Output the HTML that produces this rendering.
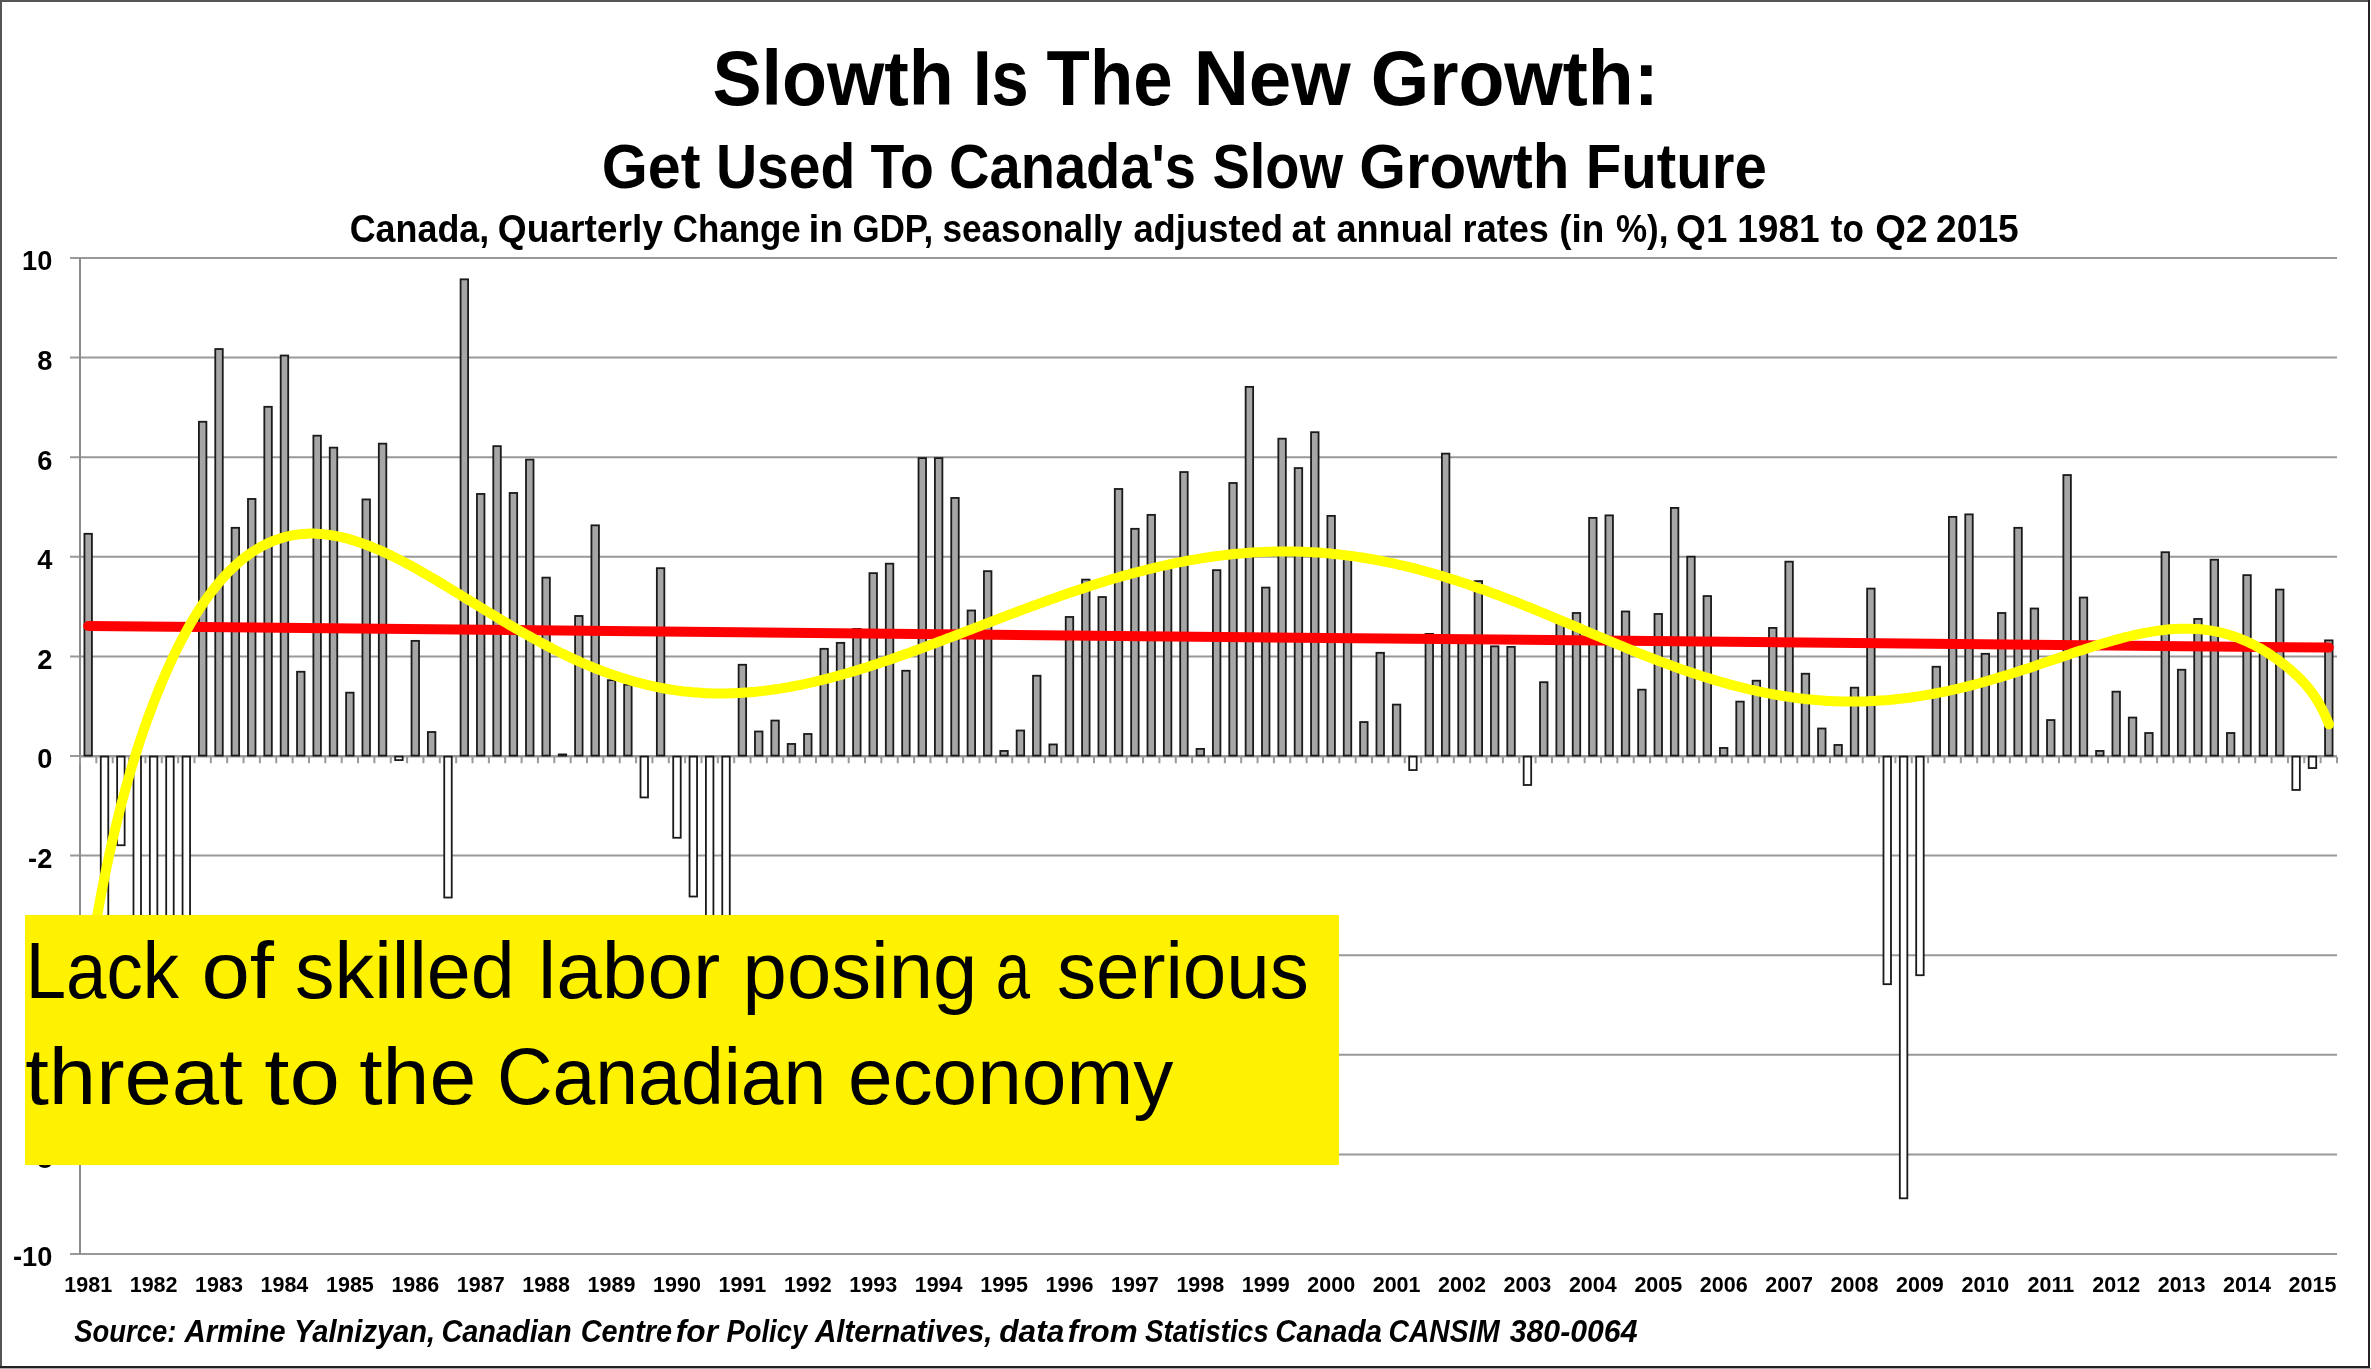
<!DOCTYPE html><html><head><meta charset="utf-8"><style>html,body{margin:0;padding:0;background:#fff;overflow:hidden}svg{display:block;will-change:transform}</style></head><body>
<svg width="2371" height="1369" viewBox="0 0 2371 1369">
<rect x="0" y="0" width="2371" height="1369" fill="#fff"/>
<line x1="70" y1="1254.0" x2="2337" y2="1254.0" stroke="#999" stroke-width="2"/>
<line x1="70" y1="1154.4" x2="2337" y2="1154.4" stroke="#999" stroke-width="2"/>
<line x1="70" y1="1054.8" x2="2337" y2="1054.8" stroke="#999" stroke-width="2"/>
<line x1="70" y1="955.2" x2="2337" y2="955.2" stroke="#999" stroke-width="2"/>
<line x1="70" y1="855.6" x2="2337" y2="855.6" stroke="#999" stroke-width="2"/>
<line x1="70" y1="756.0" x2="2337" y2="756.0" stroke="#999" stroke-width="2"/>
<line x1="70" y1="656.4" x2="2337" y2="656.4" stroke="#999" stroke-width="2"/>
<line x1="70" y1="556.8" x2="2337" y2="556.8" stroke="#999" stroke-width="2"/>
<line x1="70" y1="457.2" x2="2337" y2="457.2" stroke="#999" stroke-width="2"/>
<line x1="70" y1="357.6" x2="2337" y2="357.6" stroke="#999" stroke-width="2"/>
<line x1="70" y1="258.0" x2="2337" y2="258.0" stroke="#999" stroke-width="2"/>
<line x1="80" y1="258" x2="80" y2="1254" stroke="#8c8c8c" stroke-width="2"/>
<line x1="80" y1="756.5" x2="2337" y2="756.5" stroke="#999" stroke-width="2"/>
<rect x="84.43" y="533.80" width="7.5" height="221.80" fill="#a6a6a6" stroke="#1a1a1a" stroke-width="1.8"/>
<rect x="100.78" y="756.60" width="7.5" height="222.60" fill="#fff" stroke="#1a1a1a" stroke-width="1.8"/>
<rect x="117.14" y="756.60" width="7.5" height="88.64" fill="#fff" stroke="#1a1a1a" stroke-width="1.8"/>
<rect x="133.49" y="756.60" width="7.5" height="222.60" fill="#fff" stroke="#1a1a1a" stroke-width="1.8"/>
<rect x="149.85" y="756.60" width="7.5" height="247.50" fill="#fff" stroke="#1a1a1a" stroke-width="1.8"/>
<rect x="166.20" y="756.60" width="7.5" height="222.60" fill="#fff" stroke="#1a1a1a" stroke-width="1.8"/>
<rect x="182.56" y="756.60" width="7.5" height="197.70" fill="#fff" stroke="#1a1a1a" stroke-width="1.8"/>
<rect x="198.91" y="421.75" width="7.5" height="333.85" fill="#a6a6a6" stroke="#1a1a1a" stroke-width="1.8"/>
<rect x="215.27" y="349.04" width="7.5" height="406.56" fill="#a6a6a6" stroke="#1a1a1a" stroke-width="1.8"/>
<rect x="231.62" y="527.82" width="7.5" height="227.78" fill="#a6a6a6" stroke="#1a1a1a" stroke-width="1.8"/>
<rect x="247.98" y="498.94" width="7.5" height="256.66" fill="#a6a6a6" stroke="#1a1a1a" stroke-width="1.8"/>
<rect x="264.33" y="406.81" width="7.5" height="348.79" fill="#a6a6a6" stroke="#1a1a1a" stroke-width="1.8"/>
<rect x="280.69" y="355.51" width="7.5" height="400.09" fill="#a6a6a6" stroke="#1a1a1a" stroke-width="1.8"/>
<rect x="297.04" y="671.74" width="7.5" height="83.86" fill="#a6a6a6" stroke="#1a1a1a" stroke-width="1.8"/>
<rect x="313.40" y="435.69" width="7.5" height="319.91" fill="#a6a6a6" stroke="#1a1a1a" stroke-width="1.8"/>
<rect x="329.75" y="447.64" width="7.5" height="307.96" fill="#a6a6a6" stroke="#1a1a1a" stroke-width="1.8"/>
<rect x="346.11" y="692.66" width="7.5" height="62.94" fill="#a6a6a6" stroke="#1a1a1a" stroke-width="1.8"/>
<rect x="362.46" y="499.43" width="7.5" height="256.17" fill="#a6a6a6" stroke="#1a1a1a" stroke-width="1.8"/>
<rect x="378.82" y="443.66" width="7.5" height="311.94" fill="#a6a6a6" stroke="#1a1a1a" stroke-width="1.8"/>
<rect x="395.17" y="756.60" width="7.5" height="3.48" fill="#fff" stroke="#1a1a1a" stroke-width="1.8"/>
<rect x="411.53" y="640.87" width="7.5" height="114.73" fill="#a6a6a6" stroke="#1a1a1a" stroke-width="1.8"/>
<rect x="427.88" y="732.00" width="7.5" height="23.60" fill="#a6a6a6" stroke="#1a1a1a" stroke-width="1.8"/>
<rect x="444.24" y="756.60" width="7.5" height="140.93" fill="#fff" stroke="#1a1a1a" stroke-width="1.8"/>
<rect x="460.59" y="279.32" width="7.5" height="476.28" fill="#a6a6a6" stroke="#1a1a1a" stroke-width="1.8"/>
<rect x="476.95" y="493.96" width="7.5" height="261.64" fill="#a6a6a6" stroke="#1a1a1a" stroke-width="1.8"/>
<rect x="493.30" y="446.15" width="7.5" height="309.45" fill="#a6a6a6" stroke="#1a1a1a" stroke-width="1.8"/>
<rect x="509.66" y="492.96" width="7.5" height="262.64" fill="#a6a6a6" stroke="#1a1a1a" stroke-width="1.8"/>
<rect x="526.01" y="459.59" width="7.5" height="296.01" fill="#a6a6a6" stroke="#1a1a1a" stroke-width="1.8"/>
<rect x="542.37" y="577.62" width="7.5" height="177.98" fill="#a6a6a6" stroke="#1a1a1a" stroke-width="1.8"/>
<rect x="558.72" y="754.41" width="7.5" height="1.19" fill="#a6a6a6" stroke="#1a1a1a" stroke-width="1.8"/>
<rect x="575.08" y="615.97" width="7.5" height="139.63" fill="#a6a6a6" stroke="#1a1a1a" stroke-width="1.8"/>
<rect x="591.43" y="525.33" width="7.5" height="230.27" fill="#a6a6a6" stroke="#1a1a1a" stroke-width="1.8"/>
<rect x="607.79" y="680.21" width="7.5" height="75.39" fill="#a6a6a6" stroke="#1a1a1a" stroke-width="1.8"/>
<rect x="624.14" y="684.69" width="7.5" height="70.91" fill="#a6a6a6" stroke="#1a1a1a" stroke-width="1.8"/>
<rect x="640.50" y="756.60" width="7.5" height="40.83" fill="#fff" stroke="#1a1a1a" stroke-width="1.8"/>
<rect x="656.85" y="568.16" width="7.5" height="187.44" fill="#a6a6a6" stroke="#1a1a1a" stroke-width="1.8"/>
<rect x="673.21" y="756.60" width="7.5" height="81.17" fill="#fff" stroke="#1a1a1a" stroke-width="1.8"/>
<rect x="689.56" y="756.60" width="7.5" height="139.93" fill="#fff" stroke="#1a1a1a" stroke-width="1.8"/>
<rect x="705.92" y="756.60" width="7.5" height="197.70" fill="#fff" stroke="#1a1a1a" stroke-width="1.8"/>
<rect x="722.27" y="756.60" width="7.5" height="222.60" fill="#fff" stroke="#1a1a1a" stroke-width="1.8"/>
<rect x="738.63" y="664.77" width="7.5" height="90.83" fill="#a6a6a6" stroke="#1a1a1a" stroke-width="1.8"/>
<rect x="754.98" y="731.50" width="7.5" height="24.10" fill="#a6a6a6" stroke="#1a1a1a" stroke-width="1.8"/>
<rect x="771.34" y="720.55" width="7.5" height="35.05" fill="#a6a6a6" stroke="#1a1a1a" stroke-width="1.8"/>
<rect x="787.69" y="743.95" width="7.5" height="11.65" fill="#a6a6a6" stroke="#1a1a1a" stroke-width="1.8"/>
<rect x="804.05" y="733.99" width="7.5" height="21.61" fill="#a6a6a6" stroke="#1a1a1a" stroke-width="1.8"/>
<rect x="820.40" y="648.83" width="7.5" height="106.77" fill="#a6a6a6" stroke="#1a1a1a" stroke-width="1.8"/>
<rect x="836.76" y="642.86" width="7.5" height="112.74" fill="#a6a6a6" stroke="#1a1a1a" stroke-width="1.8"/>
<rect x="853.11" y="628.91" width="7.5" height="126.69" fill="#a6a6a6" stroke="#1a1a1a" stroke-width="1.8"/>
<rect x="869.47" y="573.14" width="7.5" height="182.46" fill="#a6a6a6" stroke="#1a1a1a" stroke-width="1.8"/>
<rect x="885.82" y="563.68" width="7.5" height="191.92" fill="#a6a6a6" stroke="#1a1a1a" stroke-width="1.8"/>
<rect x="902.18" y="670.75" width="7.5" height="84.85" fill="#a6a6a6" stroke="#1a1a1a" stroke-width="1.8"/>
<rect x="918.53" y="458.10" width="7.5" height="297.50" fill="#a6a6a6" stroke="#1a1a1a" stroke-width="1.8"/>
<rect x="934.89" y="458.10" width="7.5" height="297.50" fill="#a6a6a6" stroke="#1a1a1a" stroke-width="1.8"/>
<rect x="951.24" y="497.94" width="7.5" height="257.66" fill="#a6a6a6" stroke="#1a1a1a" stroke-width="1.8"/>
<rect x="967.60" y="610.49" width="7.5" height="145.11" fill="#a6a6a6" stroke="#1a1a1a" stroke-width="1.8"/>
<rect x="983.95" y="571.15" width="7.5" height="184.45" fill="#a6a6a6" stroke="#1a1a1a" stroke-width="1.8"/>
<rect x="1000.31" y="750.92" width="7.5" height="4.68" fill="#a6a6a6" stroke="#1a1a1a" stroke-width="1.8"/>
<rect x="1016.66" y="730.51" width="7.5" height="25.09" fill="#a6a6a6" stroke="#1a1a1a" stroke-width="1.8"/>
<rect x="1033.02" y="675.73" width="7.5" height="79.87" fill="#a6a6a6" stroke="#1a1a1a" stroke-width="1.8"/>
<rect x="1049.37" y="744.45" width="7.5" height="11.15" fill="#a6a6a6" stroke="#1a1a1a" stroke-width="1.8"/>
<rect x="1065.73" y="616.96" width="7.5" height="138.64" fill="#a6a6a6" stroke="#1a1a1a" stroke-width="1.8"/>
<rect x="1082.08" y="579.61" width="7.5" height="175.99" fill="#a6a6a6" stroke="#1a1a1a" stroke-width="1.8"/>
<rect x="1098.44" y="597.04" width="7.5" height="158.56" fill="#a6a6a6" stroke="#1a1a1a" stroke-width="1.8"/>
<rect x="1114.79" y="488.98" width="7.5" height="266.62" fill="#a6a6a6" stroke="#1a1a1a" stroke-width="1.8"/>
<rect x="1131.15" y="528.82" width="7.5" height="226.78" fill="#a6a6a6" stroke="#1a1a1a" stroke-width="1.8"/>
<rect x="1147.50" y="514.87" width="7.5" height="240.73" fill="#a6a6a6" stroke="#1a1a1a" stroke-width="1.8"/>
<rect x="1163.86" y="565.17" width="7.5" height="190.43" fill="#a6a6a6" stroke="#1a1a1a" stroke-width="1.8"/>
<rect x="1180.21" y="472.04" width="7.5" height="283.56" fill="#a6a6a6" stroke="#1a1a1a" stroke-width="1.8"/>
<rect x="1196.57" y="748.93" width="7.5" height="6.67" fill="#a6a6a6" stroke="#1a1a1a" stroke-width="1.8"/>
<rect x="1212.92" y="570.15" width="7.5" height="185.45" fill="#a6a6a6" stroke="#1a1a1a" stroke-width="1.8"/>
<rect x="1229.28" y="483.00" width="7.5" height="272.60" fill="#a6a6a6" stroke="#1a1a1a" stroke-width="1.8"/>
<rect x="1245.63" y="386.89" width="7.5" height="368.71" fill="#a6a6a6" stroke="#1a1a1a" stroke-width="1.8"/>
<rect x="1261.99" y="587.58" width="7.5" height="168.02" fill="#a6a6a6" stroke="#1a1a1a" stroke-width="1.8"/>
<rect x="1278.34" y="438.68" width="7.5" height="316.92" fill="#a6a6a6" stroke="#1a1a1a" stroke-width="1.8"/>
<rect x="1294.70" y="468.06" width="7.5" height="287.54" fill="#a6a6a6" stroke="#1a1a1a" stroke-width="1.8"/>
<rect x="1311.05" y="432.20" width="7.5" height="323.40" fill="#a6a6a6" stroke="#1a1a1a" stroke-width="1.8"/>
<rect x="1327.41" y="515.87" width="7.5" height="239.73" fill="#a6a6a6" stroke="#1a1a1a" stroke-width="1.8"/>
<rect x="1343.76" y="557.70" width="7.5" height="197.90" fill="#a6a6a6" stroke="#1a1a1a" stroke-width="1.8"/>
<rect x="1360.12" y="722.04" width="7.5" height="33.56" fill="#a6a6a6" stroke="#1a1a1a" stroke-width="1.8"/>
<rect x="1376.47" y="652.82" width="7.5" height="102.78" fill="#a6a6a6" stroke="#1a1a1a" stroke-width="1.8"/>
<rect x="1392.83" y="704.61" width="7.5" height="50.99" fill="#a6a6a6" stroke="#1a1a1a" stroke-width="1.8"/>
<rect x="1409.18" y="756.60" width="7.5" height="13.44" fill="#fff" stroke="#1a1a1a" stroke-width="1.8"/>
<rect x="1425.54" y="633.89" width="7.5" height="121.71" fill="#a6a6a6" stroke="#1a1a1a" stroke-width="1.8"/>
<rect x="1441.89" y="453.62" width="7.5" height="301.98" fill="#a6a6a6" stroke="#1a1a1a" stroke-width="1.8"/>
<rect x="1458.25" y="640.87" width="7.5" height="114.73" fill="#a6a6a6" stroke="#1a1a1a" stroke-width="1.8"/>
<rect x="1474.60" y="581.11" width="7.5" height="174.49" fill="#a6a6a6" stroke="#1a1a1a" stroke-width="1.8"/>
<rect x="1490.96" y="646.34" width="7.5" height="109.26" fill="#a6a6a6" stroke="#1a1a1a" stroke-width="1.8"/>
<rect x="1507.31" y="646.84" width="7.5" height="108.76" fill="#a6a6a6" stroke="#1a1a1a" stroke-width="1.8"/>
<rect x="1523.67" y="756.60" width="7.5" height="28.38" fill="#fff" stroke="#1a1a1a" stroke-width="1.8"/>
<rect x="1540.02" y="682.20" width="7.5" height="73.40" fill="#a6a6a6" stroke="#1a1a1a" stroke-width="1.8"/>
<rect x="1556.38" y="619.95" width="7.5" height="135.65" fill="#a6a6a6" stroke="#1a1a1a" stroke-width="1.8"/>
<rect x="1572.73" y="612.98" width="7.5" height="142.62" fill="#a6a6a6" stroke="#1a1a1a" stroke-width="1.8"/>
<rect x="1589.09" y="517.86" width="7.5" height="237.74" fill="#a6a6a6" stroke="#1a1a1a" stroke-width="1.8"/>
<rect x="1605.44" y="515.37" width="7.5" height="240.23" fill="#a6a6a6" stroke="#1a1a1a" stroke-width="1.8"/>
<rect x="1621.80" y="611.48" width="7.5" height="144.12" fill="#a6a6a6" stroke="#1a1a1a" stroke-width="1.8"/>
<rect x="1638.15" y="689.67" width="7.5" height="65.93" fill="#a6a6a6" stroke="#1a1a1a" stroke-width="1.8"/>
<rect x="1654.51" y="613.97" width="7.5" height="141.63" fill="#a6a6a6" stroke="#1a1a1a" stroke-width="1.8"/>
<rect x="1670.86" y="507.90" width="7.5" height="247.70" fill="#a6a6a6" stroke="#1a1a1a" stroke-width="1.8"/>
<rect x="1687.22" y="556.70" width="7.5" height="198.90" fill="#a6a6a6" stroke="#1a1a1a" stroke-width="1.8"/>
<rect x="1703.57" y="596.05" width="7.5" height="159.55" fill="#a6a6a6" stroke="#1a1a1a" stroke-width="1.8"/>
<rect x="1719.93" y="747.94" width="7.5" height="7.66" fill="#a6a6a6" stroke="#1a1a1a" stroke-width="1.8"/>
<rect x="1736.28" y="701.62" width="7.5" height="53.98" fill="#a6a6a6" stroke="#1a1a1a" stroke-width="1.8"/>
<rect x="1752.64" y="680.71" width="7.5" height="74.89" fill="#a6a6a6" stroke="#1a1a1a" stroke-width="1.8"/>
<rect x="1768.99" y="627.92" width="7.5" height="127.68" fill="#a6a6a6" stroke="#1a1a1a" stroke-width="1.8"/>
<rect x="1785.35" y="561.68" width="7.5" height="193.92" fill="#a6a6a6" stroke="#1a1a1a" stroke-width="1.8"/>
<rect x="1801.70" y="673.73" width="7.5" height="81.87" fill="#a6a6a6" stroke="#1a1a1a" stroke-width="1.8"/>
<rect x="1818.06" y="728.51" width="7.5" height="27.09" fill="#a6a6a6" stroke="#1a1a1a" stroke-width="1.8"/>
<rect x="1834.41" y="744.95" width="7.5" height="10.65" fill="#a6a6a6" stroke="#1a1a1a" stroke-width="1.8"/>
<rect x="1850.77" y="687.68" width="7.5" height="67.92" fill="#a6a6a6" stroke="#1a1a1a" stroke-width="1.8"/>
<rect x="1867.12" y="588.58" width="7.5" height="167.02" fill="#a6a6a6" stroke="#1a1a1a" stroke-width="1.8"/>
<rect x="1883.48" y="756.60" width="7.5" height="227.58" fill="#fff" stroke="#1a1a1a" stroke-width="1.8"/>
<rect x="1899.83" y="756.60" width="7.5" height="441.72" fill="#fff" stroke="#1a1a1a" stroke-width="1.8"/>
<rect x="1916.19" y="756.60" width="7.5" height="218.62" fill="#fff" stroke="#1a1a1a" stroke-width="1.8"/>
<rect x="1932.54" y="666.76" width="7.5" height="88.84" fill="#a6a6a6" stroke="#1a1a1a" stroke-width="1.8"/>
<rect x="1948.90" y="516.86" width="7.5" height="238.74" fill="#a6a6a6" stroke="#1a1a1a" stroke-width="1.8"/>
<rect x="1965.25" y="514.37" width="7.5" height="241.23" fill="#a6a6a6" stroke="#1a1a1a" stroke-width="1.8"/>
<rect x="1981.61" y="653.81" width="7.5" height="101.79" fill="#a6a6a6" stroke="#1a1a1a" stroke-width="1.8"/>
<rect x="1997.96" y="612.98" width="7.5" height="142.62" fill="#a6a6a6" stroke="#1a1a1a" stroke-width="1.8"/>
<rect x="2014.32" y="527.82" width="7.5" height="227.78" fill="#a6a6a6" stroke="#1a1a1a" stroke-width="1.8"/>
<rect x="2030.67" y="608.50" width="7.5" height="147.10" fill="#a6a6a6" stroke="#1a1a1a" stroke-width="1.8"/>
<rect x="2047.03" y="720.05" width="7.5" height="35.55" fill="#a6a6a6" stroke="#1a1a1a" stroke-width="1.8"/>
<rect x="2063.38" y="475.03" width="7.5" height="280.57" fill="#a6a6a6" stroke="#1a1a1a" stroke-width="1.8"/>
<rect x="2079.74" y="597.54" width="7.5" height="158.06" fill="#a6a6a6" stroke="#1a1a1a" stroke-width="1.8"/>
<rect x="2096.09" y="750.92" width="7.5" height="4.68" fill="#a6a6a6" stroke="#1a1a1a" stroke-width="1.8"/>
<rect x="2112.45" y="691.66" width="7.5" height="63.94" fill="#a6a6a6" stroke="#1a1a1a" stroke-width="1.8"/>
<rect x="2128.80" y="717.56" width="7.5" height="38.04" fill="#a6a6a6" stroke="#1a1a1a" stroke-width="1.8"/>
<rect x="2145.16" y="733.00" width="7.5" height="22.60" fill="#a6a6a6" stroke="#1a1a1a" stroke-width="1.8"/>
<rect x="2161.51" y="552.22" width="7.5" height="203.38" fill="#a6a6a6" stroke="#1a1a1a" stroke-width="1.8"/>
<rect x="2177.87" y="669.75" width="7.5" height="85.85" fill="#a6a6a6" stroke="#1a1a1a" stroke-width="1.8"/>
<rect x="2194.22" y="618.95" width="7.5" height="136.65" fill="#a6a6a6" stroke="#1a1a1a" stroke-width="1.8"/>
<rect x="2210.58" y="559.69" width="7.5" height="195.91" fill="#a6a6a6" stroke="#1a1a1a" stroke-width="1.8"/>
<rect x="2226.93" y="733.00" width="7.5" height="22.60" fill="#a6a6a6" stroke="#1a1a1a" stroke-width="1.8"/>
<rect x="2243.29" y="575.13" width="7.5" height="180.47" fill="#a6a6a6" stroke="#1a1a1a" stroke-width="1.8"/>
<rect x="2259.64" y="652.32" width="7.5" height="103.28" fill="#a6a6a6" stroke="#1a1a1a" stroke-width="1.8"/>
<rect x="2276.00" y="589.57" width="7.5" height="166.03" fill="#a6a6a6" stroke="#1a1a1a" stroke-width="1.8"/>
<rect x="2292.35" y="756.60" width="7.5" height="33.36" fill="#fff" stroke="#1a1a1a" stroke-width="1.8"/>
<rect x="2308.71" y="756.60" width="7.5" height="11.45" fill="#fff" stroke="#1a1a1a" stroke-width="1.8"/>
<rect x="2325.06" y="640.37" width="7.5" height="115.23" fill="#a6a6a6" stroke="#1a1a1a" stroke-width="1.8"/>
<path d="M80.00,757.0V763.3M96.36,757.0V763.3M112.71,757.0V763.3M129.06,757.0V763.3M145.42,757.0V763.3M161.78,757.0V763.3M178.13,757.0V763.3M194.49,757.0V763.3M210.84,757.0V763.3M227.19,757.0V763.3M243.55,757.0V763.3M259.90,757.0V763.3M276.26,757.0V763.3M292.62,757.0V763.3M308.97,757.0V763.3M325.33,757.0V763.3M341.68,757.0V763.3M358.04,757.0V763.3M374.39,757.0V763.3M390.75,757.0V763.3M407.10,757.0V763.3M423.45,757.0V763.3M439.81,757.0V763.3M456.17,757.0V763.3M472.52,757.0V763.3M488.88,757.0V763.3M505.23,757.0V763.3M521.59,757.0V763.3M537.94,757.0V763.3M554.30,757.0V763.3M570.65,757.0V763.3M587.00,757.0V763.3M603.36,757.0V763.3M619.72,757.0V763.3M636.07,757.0V763.3M652.43,757.0V763.3M668.78,757.0V763.3M685.13,757.0V763.3M701.49,757.0V763.3M717.85,757.0V763.3M734.20,757.0V763.3M750.56,757.0V763.3M766.91,757.0V763.3M783.26,757.0V763.3M799.62,757.0V763.3M815.98,757.0V763.3M832.33,757.0V763.3M848.69,757.0V763.3M865.04,757.0V763.3M881.39,757.0V763.3M897.75,757.0V763.3M914.11,757.0V763.3M930.46,757.0V763.3M946.82,757.0V763.3M963.17,757.0V763.3M979.52,757.0V763.3M995.88,757.0V763.3M1012.24,757.0V763.3M1028.59,757.0V763.3M1044.95,757.0V763.3M1061.30,757.0V763.3M1077.65,757.0V763.3M1094.01,757.0V763.3M1110.37,757.0V763.3M1126.72,757.0V763.3M1143.08,757.0V763.3M1159.43,757.0V763.3M1175.79,757.0V763.3M1192.14,757.0V763.3M1208.50,757.0V763.3M1224.85,757.0V763.3M1241.20,757.0V763.3M1257.56,757.0V763.3M1273.91,757.0V763.3M1290.27,757.0V763.3M1306.62,757.0V763.3M1322.98,757.0V763.3M1339.34,757.0V763.3M1355.69,757.0V763.3M1372.05,757.0V763.3M1388.40,757.0V763.3M1404.76,757.0V763.3M1421.11,757.0V763.3M1437.47,757.0V763.3M1453.82,757.0V763.3M1470.17,757.0V763.3M1486.53,757.0V763.3M1502.88,757.0V763.3M1519.24,757.0V763.3M1535.60,757.0V763.3M1551.95,757.0V763.3M1568.31,757.0V763.3M1584.66,757.0V763.3M1601.02,757.0V763.3M1617.37,757.0V763.3M1633.73,757.0V763.3M1650.08,757.0V763.3M1666.43,757.0V763.3M1682.79,757.0V763.3M1699.14,757.0V763.3M1715.50,757.0V763.3M1731.86,757.0V763.3M1748.21,757.0V763.3M1764.57,757.0V763.3M1780.92,757.0V763.3M1797.28,757.0V763.3M1813.63,757.0V763.3M1829.99,757.0V763.3M1846.34,757.0V763.3M1862.69,757.0V763.3M1879.05,757.0V763.3M1895.40,757.0V763.3M1911.76,757.0V763.3M1928.12,757.0V763.3M1944.47,757.0V763.3M1960.83,757.0V763.3M1977.18,757.0V763.3M1993.54,757.0V763.3M2009.89,757.0V763.3M2026.25,757.0V763.3M2042.60,757.0V763.3M2058.95,757.0V763.3M2075.31,757.0V763.3M2091.66,757.0V763.3M2108.02,757.0V763.3M2124.38,757.0V763.3M2140.73,757.0V763.3M2157.09,757.0V763.3M2173.44,757.0V763.3M2189.80,757.0V763.3M2206.15,757.0V763.3M2222.51,757.0V763.3M2238.86,757.0V763.3M2255.22,757.0V763.3M2271.57,757.0V763.3M2287.93,757.0V763.3M2304.28,757.0V763.3M2320.64,757.0V763.3M2336.99,757.0V763.3" stroke="#999" stroke-width="2" fill="none"/>
<line x1="88.2" y1="626" x2="2328.8" y2="647.6" stroke="#ff0000" stroke-width="10" stroke-linecap="round"/>
<path d="M88,960 L97.3,915.0 L100.3,898.7 L103.3,883.3 L106.3,868.6 L109.3,854.5 L112.3,841.1 L115.3,828.3 L118.3,816.1 L121.3,804.3 L124.3,793.1 L127.3,782.3 L130.3,771.9 L133.3,761.9 L136.3,752.3 L139.3,743.0 L142.3,734.0 L145.3,725.4 L148.3,717.0 L151.3,708.9 L154.3,701.0 L157.3,693.4 L160.3,686.0 L163.3,678.8 L166.3,671.9 L169.3,665.2 L172.3,658.7 L175.3,652.4 L178.3,646.3 L181.3,640.5 L184.3,634.8 L187.3,629.3 L190.3,624.0 L193.3,619.0 L196.3,614.0 L199.3,609.3 L202.3,604.8 L205.3,600.4 L208.3,596.2 L211.3,592.1 L214.3,588.3 L217.3,584.6 L220.3,581.0 L223.3,577.6 L226.3,574.3 L229.3,571.2 L232.3,568.3 L235.3,565.5 L238.3,562.8 L241.3,560.2 L244.3,557.8 L247.3,555.6 L250.3,553.4 L253.3,551.4 L256.3,549.5 L259.3,547.7 L262.3,546.0 L265.3,544.5 L268.3,543.1 L271.3,541.7 L274.3,540.5 L277.3,539.4 L280.3,538.4 L283.3,537.5 L286.3,536.7 L289.3,536.0 L292.3,535.4 L295.3,534.9 L298.3,534.5 L301.3,534.1 L304.3,533.9 L307.3,533.7 L310.3,533.6 L313.3,533.6 L316.3,533.7 L319.3,533.9 L322.3,534.1 L325.3,534.4 L328.3,534.8 L331.3,535.2 L334.3,535.7 L337.3,536.3 L340.3,536.9 L343.3,537.6 L346.3,538.4 L349.3,539.2 L352.3,540.1 L355.3,541.0 L358.3,542.0 L361.3,543.0 L364.3,544.1 L367.3,545.2 L370.3,546.3 L373.3,547.6 L376.3,548.8 L379.3,550.1 L382.3,551.4 L385.3,552.8 L388.3,554.2 L391.3,555.6 L394.3,557.1 L397.3,558.6 L400.3,560.1 L403.3,561.7 L406.3,563.3 L409.3,564.9 L412.3,566.5 L415.3,568.2 L418.3,569.9 L421.3,571.6 L424.3,573.3 L427.3,575.0 L430.3,576.8 L433.3,578.5 L436.3,580.3 L439.3,582.1 L442.3,583.9 L445.3,585.7 L448.3,587.5 L451.3,589.4 L454.3,591.2 L457.3,593.0 L460.3,594.9 L463.3,596.7 L466.3,598.6 L469.3,600.4 L472.3,602.3 L475.3,604.1 L478.3,606.0 L481.3,607.8 L484.3,609.6 L487.3,611.5 L490.3,613.3 L493.3,615.1 L496.3,616.9 L499.3,618.8 L502.3,620.6 L505.3,622.3 L508.3,624.1 L511.3,625.9 L514.3,627.6 L517.3,629.4 L520.3,631.1 L523.3,632.8 L526.3,634.5 L529.3,636.2 L532.3,637.9 L535.3,639.5 L538.3,641.2 L541.3,642.8 L544.3,644.4 L547.3,646.0 L550.3,647.5 L553.3,649.1 L556.3,650.6 L559.3,652.1 L562.3,653.6 L565.3,655.0 L568.3,656.5 L571.3,657.9 L574.3,659.3 L577.3,660.6 L580.3,662.0 L583.3,663.3 L586.3,664.6 L589.3,665.8 L592.3,667.1 L595.3,668.3 L598.3,669.5 L601.3,670.6 L604.3,671.8 L607.3,672.9 L610.3,673.9 L613.3,675.0 L616.3,676.0 L619.3,677.0 L622.3,678.0 L625.3,678.9 L628.3,679.8 L631.3,680.7 L634.3,681.6 L637.3,682.4 L640.3,683.2 L643.3,683.9 L646.3,684.7 L649.3,685.4 L652.3,686.0 L655.3,686.7 L658.3,687.3 L661.3,687.9 L664.3,688.5 L667.3,689.0 L670.3,689.5 L673.3,689.9 L676.3,690.4 L679.3,690.8 L682.3,691.2 L685.3,691.5 L688.3,691.8 L691.3,692.1 L694.3,692.4 L697.3,692.6 L700.3,692.8 L703.3,693.0 L706.3,693.2 L709.3,693.3 L712.3,693.4 L715.3,693.4 L718.3,693.5 L721.3,693.5 L724.3,693.5 L727.3,693.4 L730.3,693.3 L733.3,693.2 L736.3,693.1 L739.3,693.0 L742.3,692.8 L745.3,692.6 L748.3,692.4 L751.3,692.1 L754.3,691.9 L757.3,691.6 L760.3,691.2 L763.3,690.9 L766.3,690.5 L769.3,690.1 L772.3,689.7 L775.3,689.3 L778.3,688.9 L781.3,688.4 L784.3,687.9 L787.3,687.4 L790.3,686.8 L793.3,686.3 L796.3,685.7 L799.3,685.1 L802.3,684.5 L805.3,683.8 L808.3,683.2 L811.3,682.5 L814.3,681.8 L817.3,681.1 L820.3,680.4 L823.3,679.7 L826.3,678.9 L829.3,678.1 L832.3,677.3 L835.3,676.5 L838.3,675.7 L841.3,674.9 L844.3,674.0 L847.3,673.2 L850.3,672.3 L853.3,671.4 L856.3,670.5 L859.3,669.6 L862.3,668.6 L865.3,667.7 L868.3,666.8 L871.3,665.8 L874.3,664.8 L877.3,663.8 L880.3,662.8 L883.3,661.8 L886.3,660.8 L889.3,659.8 L892.3,658.7 L895.3,657.7 L898.3,656.6 L901.3,655.6 L904.3,654.5 L907.3,653.4 L910.3,652.4 L913.3,651.3 L916.3,650.2 L919.3,649.1 L922.3,648.0 L925.3,646.8 L928.3,645.7 L931.3,644.6 L934.3,643.5 L937.3,642.3 L940.3,641.2 L943.3,640.1 L946.3,638.9 L949.3,637.8 L952.3,636.6 L955.3,635.5 L958.3,634.3 L961.3,633.2 L964.3,632.0 L967.3,630.9 L970.3,629.7 L973.3,628.6 L976.3,627.4 L979.3,626.3 L982.3,625.1 L985.3,623.9 L988.3,622.8 L991.3,621.6 L994.3,620.5 L997.3,619.3 L1000.3,618.2 L1003.3,617.0 L1006.3,615.9 L1009.3,614.7 L1012.3,613.6 L1015.3,612.5 L1018.3,611.3 L1021.3,610.2 L1024.3,609.1 L1027.3,608.0 L1030.3,606.9 L1033.3,605.8 L1036.3,604.7 L1039.3,603.6 L1042.3,602.5 L1045.3,601.4 L1048.3,600.3 L1051.3,599.2 L1054.3,598.2 L1057.3,597.1 L1060.3,596.0 L1063.3,595.0 L1066.3,594.0 L1069.3,592.9 L1072.3,591.9 L1075.3,590.9 L1078.3,589.9 L1081.3,588.9 L1084.3,587.9 L1087.3,586.9 L1090.3,585.9 L1093.3,585.0 L1096.3,584.0 L1099.3,583.1 L1102.3,582.2 L1105.3,581.2 L1108.3,580.3 L1111.3,579.4 L1114.3,578.5 L1117.3,577.7 L1120.3,576.8 L1123.3,575.9 L1126.3,575.1 L1129.3,574.3 L1132.3,573.4 L1135.3,572.6 L1138.3,571.8 L1141.3,571.1 L1144.3,570.3 L1147.3,569.5 L1150.3,568.8 L1153.3,568.1 L1156.3,567.4 L1159.3,566.7 L1162.3,566.0 L1165.3,565.3 L1168.3,564.6 L1171.3,564.0 L1174.3,563.4 L1177.3,562.7 L1180.3,562.1 L1183.3,561.6 L1186.3,561.0 L1189.3,560.4 L1192.3,559.9 L1195.3,559.4 L1198.3,558.8 L1201.3,558.4 L1204.3,557.9 L1207.3,557.4 L1210.3,557.0 L1213.3,556.5 L1216.3,556.1 L1219.3,555.7 L1222.3,555.4 L1225.3,555.0 L1228.3,554.7 L1231.3,554.3 L1234.3,554.0 L1237.3,553.7 L1240.3,553.4 L1243.3,553.2 L1246.3,552.9 L1249.3,552.7 L1252.3,552.5 L1255.3,552.3 L1258.3,552.2 L1261.3,552.0 L1264.3,551.9 L1267.3,551.8 L1270.3,551.7 L1273.3,551.6 L1276.3,551.5 L1279.3,551.5 L1282.3,551.5 L1285.3,551.5 L1288.3,551.5 L1291.3,551.5 L1294.3,551.6 L1297.3,551.6 L1300.3,551.7 L1303.3,551.8 L1306.3,551.9 L1309.3,552.1 L1312.3,552.2 L1315.3,552.4 L1318.3,552.6 L1321.3,552.8 L1324.3,553.1 L1327.3,553.3 L1330.3,553.6 L1333.3,553.9 L1336.3,554.2 L1339.3,554.5 L1342.3,554.9 L1345.3,555.2 L1348.3,555.6 L1351.3,556.0 L1354.3,556.4 L1357.3,556.9 L1360.3,557.3 L1363.3,557.8 L1366.3,558.3 L1369.3,558.8 L1372.3,559.3 L1375.3,559.8 L1378.3,560.4 L1381.3,561.0 L1384.3,561.6 L1387.3,562.2 L1390.3,562.8 L1393.3,563.4 L1396.3,564.1 L1399.3,564.8 L1402.3,565.5 L1405.3,566.2 L1408.3,566.9 L1411.3,567.7 L1414.3,568.4 L1417.3,569.2 L1420.3,570.0 L1423.3,570.8 L1426.3,571.6 L1429.3,572.4 L1432.3,573.3 L1435.3,574.1 L1438.3,575.0 L1441.3,575.9 L1444.3,576.8 L1447.3,577.7 L1450.3,578.7 L1453.3,579.6 L1456.3,580.6 L1459.3,581.6 L1462.3,582.5 L1465.3,583.5 L1468.3,584.5 L1471.3,585.6 L1474.3,586.6 L1477.3,587.7 L1480.3,588.7 L1483.3,589.8 L1486.3,590.9 L1489.3,592.0 L1492.3,593.1 L1495.3,594.2 L1498.3,595.3 L1501.3,596.4 L1504.3,597.6 L1507.3,598.7 L1510.3,599.9 L1513.3,601.0 L1516.3,602.2 L1519.3,603.4 L1522.3,604.6 L1525.3,605.8 L1528.3,607.0 L1531.3,608.2 L1534.3,609.4 L1537.3,610.7 L1540.3,611.9 L1543.3,613.1 L1546.3,614.4 L1549.3,615.6 L1552.3,616.9 L1555.3,618.1 L1558.3,619.4 L1561.3,620.6 L1564.3,621.9 L1567.3,623.2 L1570.3,624.4 L1573.3,625.7 L1576.3,627.0 L1579.3,628.2 L1582.3,629.5 L1585.3,630.8 L1588.3,632.1 L1591.3,633.3 L1594.3,634.6 L1597.3,635.9 L1600.3,637.1 L1603.3,638.4 L1606.3,639.7 L1609.3,640.9 L1612.3,642.2 L1615.3,643.4 L1618.3,644.7 L1621.3,645.9 L1624.3,647.2 L1627.3,648.4 L1630.3,649.6 L1633.3,650.8 L1636.3,652.1 L1639.3,653.3 L1642.3,654.5 L1645.3,655.7 L1648.3,656.8 L1651.3,658.0 L1654.3,659.2 L1657.3,660.3 L1660.3,661.5 L1663.3,662.6 L1666.3,663.7 L1669.3,664.8 L1672.3,665.9 L1675.3,667.0 L1678.3,668.1 L1681.3,669.2 L1684.3,670.2 L1687.3,671.3 L1690.3,672.3 L1693.3,673.3 L1696.3,674.3 L1699.3,675.3 L1702.3,676.2 L1705.3,677.2 L1708.3,678.1 L1711.3,679.1 L1714.3,680.0 L1717.3,680.9 L1720.3,681.7 L1723.3,682.6 L1726.3,683.4 L1729.3,684.3 L1732.3,685.1 L1735.3,685.9 L1738.3,686.6 L1741.3,687.4 L1744.3,688.1 L1747.3,688.9 L1750.3,689.6 L1753.3,690.2 L1756.3,690.9 L1759.3,691.6 L1762.3,692.2 L1765.3,692.8 L1768.3,693.4 L1771.3,693.9 L1774.3,694.5 L1777.3,695.0 L1780.3,695.5 L1783.3,696.0 L1786.3,696.5 L1789.3,696.9 L1792.3,697.4 L1795.3,697.8 L1798.3,698.2 L1801.3,698.5 L1804.3,698.9 L1807.3,699.2 L1810.3,699.5 L1813.3,699.8 L1816.3,700.1 L1819.3,700.3 L1822.3,700.5 L1825.3,700.7 L1828.3,700.9 L1831.3,701.0 L1834.3,701.2 L1837.3,701.3 L1840.3,701.4 L1843.3,701.5 L1846.3,701.5 L1849.3,701.5 L1852.3,701.5 L1855.3,701.5 L1858.3,701.5 L1861.3,701.4 L1864.3,701.4 L1867.3,701.3 L1870.3,701.1 L1873.3,701.0 L1876.3,700.8 L1879.3,700.6 L1882.3,700.4 L1885.3,700.2 L1888.3,700.0 L1891.3,699.7 L1894.3,699.4 L1897.3,699.1 L1900.3,698.8 L1903.3,698.4 L1906.3,698.1 L1909.3,697.7 L1912.3,697.2 L1915.3,696.8 L1918.3,696.4 L1921.3,695.9 L1924.3,695.4 L1927.3,694.9 L1930.3,694.4 L1933.3,693.8 L1936.3,693.3 L1939.3,692.7 L1942.3,692.1 L1945.3,691.5 L1948.3,690.8 L1951.3,690.2 L1954.3,689.5 L1957.3,688.8 L1960.3,688.1 L1963.3,687.4 L1966.3,686.6 L1969.3,685.9 L1972.3,685.1 L1975.3,684.3 L1978.3,683.5 L1981.3,682.7 L1984.3,681.8 L1987.3,681.0 L1990.3,680.1 L1993.3,679.2 L1996.3,678.3 L1999.3,677.4 L2002.3,676.5 L2005.3,675.6 L2008.3,674.7 L2011.3,673.7 L2014.3,672.8 L2017.3,671.8 L2020.3,670.8 L2023.3,669.8 L2026.3,668.9 L2029.3,667.9 L2032.3,666.9 L2035.3,665.9 L2038.3,664.8 L2041.3,663.8 L2044.3,662.8 L2047.3,661.8 L2050.3,660.8 L2053.3,659.8 L2056.3,658.7 L2059.3,657.7 L2062.3,656.7 L2065.3,655.7 L2068.3,654.7 L2071.3,653.6 L2074.3,652.6 L2077.3,651.6 L2080.3,650.6 L2083.3,649.7 L2086.3,648.7 L2089.3,647.7 L2092.3,646.8 L2095.3,645.8 L2098.3,644.9 L2101.3,644.0 L2104.3,643.1 L2107.3,642.2 L2110.3,641.3 L2113.3,640.5 L2116.3,639.6 L2119.3,638.8 L2122.3,638.0 L2125.3,637.2 L2128.3,636.5 L2131.3,635.8 L2134.3,635.1 L2137.3,634.4 L2140.3,633.8 L2143.3,633.2 L2146.3,632.6 L2149.3,632.1 L2152.3,631.6 L2155.3,631.1 L2158.3,630.7 L2161.3,630.3 L2164.3,629.9 L2167.3,629.6 L2170.3,629.3 L2173.3,629.1 L2176.3,628.9 L2179.3,628.8 L2182.3,628.7 L2185.3,628.7 L2188.3,628.7 L2191.3,628.8 L2194.3,628.9 L2197.3,629.1 L2200.3,629.3 L2203.3,629.6 L2206.3,629.9 L2209.3,630.4 L2212.3,630.9 L2215.3,631.4 L2218.3,632.0 L2221.3,632.7 L2224.3,633.5 L2227.3,634.3 L2230.3,635.2 L2233.3,636.2 L2236.3,637.2 L2239.3,638.4 L2242.3,639.6 L2245.3,640.8 L2248.3,642.2 L2251.3,643.6 L2254.3,645.2 L2257.3,646.8 L2260.3,648.4 L2263.3,650.2 L2266.3,652.0 L2269.3,654.0 L2272.3,656.0 L2275.3,658.1 L2278.3,660.2 L2281.3,662.5 L2284.3,664.8 L2287.3,667.2 L2290.3,669.7 L2293.3,672.3 L2296.3,675.1 L2299.3,677.9 L2302.3,681.0 L2305.3,684.3 L2308.3,687.8 L2311.3,691.7 L2314.3,695.9 L2317.3,700.6 L2320.3,705.7 L2323.3,711.5 L2326.3,718.0 L2329.0,724.4" stroke="#ffff00" stroke-width="10" fill="none" stroke-linecap="round" stroke-linejoin="round"/>
<text x="52.3" y="1266.4" font-family="&quot;Liberation Sans&quot;, sans-serif" font-size="27.2" font-weight="bold" text-anchor="end">-10</text>
<text x="52.3" y="1167.7" font-family="&quot;Liberation Sans&quot;, sans-serif" font-size="27.2" font-weight="bold" text-anchor="end">-8</text>
<text x="52.3" y="1067.2" font-family="&quot;Liberation Sans&quot;, sans-serif" font-size="27.2" font-weight="bold" text-anchor="end">-6</text>
<text x="52.3" y="967.6" font-family="&quot;Liberation Sans&quot;, sans-serif" font-size="27.2" font-weight="bold" text-anchor="end">-4</text>
<text x="52.3" y="868.0" font-family="&quot;Liberation Sans&quot;, sans-serif" font-size="27.2" font-weight="bold" text-anchor="end">-2</text>
<text x="52.3" y="768.4" font-family="&quot;Liberation Sans&quot;, sans-serif" font-size="27.2" font-weight="bold" text-anchor="end">0</text>
<text x="52.3" y="668.8" font-family="&quot;Liberation Sans&quot;, sans-serif" font-size="27.2" font-weight="bold" text-anchor="end">2</text>
<text x="52.3" y="569.2" font-family="&quot;Liberation Sans&quot;, sans-serif" font-size="27.2" font-weight="bold" text-anchor="end">4</text>
<text x="52.3" y="469.6" font-family="&quot;Liberation Sans&quot;, sans-serif" font-size="27.2" font-weight="bold" text-anchor="end">6</text>
<text x="52.3" y="370.0" font-family="&quot;Liberation Sans&quot;, sans-serif" font-size="27.2" font-weight="bold" text-anchor="end">8</text>
<text x="52.3" y="270.4" font-family="&quot;Liberation Sans&quot;, sans-serif" font-size="27.2" font-weight="bold" text-anchor="end">10</text>
<text x="88.2" y="1292" font-family="&quot;Liberation Sans&quot;, sans-serif" font-size="21.5" font-weight="bold" text-anchor="middle">1981</text>
<text x="153.6" y="1292" font-family="&quot;Liberation Sans&quot;, sans-serif" font-size="21.5" font-weight="bold" text-anchor="middle">1982</text>
<text x="219.0" y="1292" font-family="&quot;Liberation Sans&quot;, sans-serif" font-size="21.5" font-weight="bold" text-anchor="middle">1983</text>
<text x="284.4" y="1292" font-family="&quot;Liberation Sans&quot;, sans-serif" font-size="21.5" font-weight="bold" text-anchor="middle">1984</text>
<text x="349.9" y="1292" font-family="&quot;Liberation Sans&quot;, sans-serif" font-size="21.5" font-weight="bold" text-anchor="middle">1985</text>
<text x="415.3" y="1292" font-family="&quot;Liberation Sans&quot;, sans-serif" font-size="21.5" font-weight="bold" text-anchor="middle">1986</text>
<text x="480.7" y="1292" font-family="&quot;Liberation Sans&quot;, sans-serif" font-size="21.5" font-weight="bold" text-anchor="middle">1987</text>
<text x="546.1" y="1292" font-family="&quot;Liberation Sans&quot;, sans-serif" font-size="21.5" font-weight="bold" text-anchor="middle">1988</text>
<text x="611.5" y="1292" font-family="&quot;Liberation Sans&quot;, sans-serif" font-size="21.5" font-weight="bold" text-anchor="middle">1989</text>
<text x="677.0" y="1292" font-family="&quot;Liberation Sans&quot;, sans-serif" font-size="21.5" font-weight="bold" text-anchor="middle">1990</text>
<text x="742.4" y="1292" font-family="&quot;Liberation Sans&quot;, sans-serif" font-size="21.5" font-weight="bold" text-anchor="middle">1991</text>
<text x="807.8" y="1292" font-family="&quot;Liberation Sans&quot;, sans-serif" font-size="21.5" font-weight="bold" text-anchor="middle">1992</text>
<text x="873.2" y="1292" font-family="&quot;Liberation Sans&quot;, sans-serif" font-size="21.5" font-weight="bold" text-anchor="middle">1993</text>
<text x="938.6" y="1292" font-family="&quot;Liberation Sans&quot;, sans-serif" font-size="21.5" font-weight="bold" text-anchor="middle">1994</text>
<text x="1004.1" y="1292" font-family="&quot;Liberation Sans&quot;, sans-serif" font-size="21.5" font-weight="bold" text-anchor="middle">1995</text>
<text x="1069.5" y="1292" font-family="&quot;Liberation Sans&quot;, sans-serif" font-size="21.5" font-weight="bold" text-anchor="middle">1996</text>
<text x="1134.9" y="1292" font-family="&quot;Liberation Sans&quot;, sans-serif" font-size="21.5" font-weight="bold" text-anchor="middle">1997</text>
<text x="1200.3" y="1292" font-family="&quot;Liberation Sans&quot;, sans-serif" font-size="21.5" font-weight="bold" text-anchor="middle">1998</text>
<text x="1265.7" y="1292" font-family="&quot;Liberation Sans&quot;, sans-serif" font-size="21.5" font-weight="bold" text-anchor="middle">1999</text>
<text x="1331.2" y="1292" font-family="&quot;Liberation Sans&quot;, sans-serif" font-size="21.5" font-weight="bold" text-anchor="middle">2000</text>
<text x="1396.6" y="1292" font-family="&quot;Liberation Sans&quot;, sans-serif" font-size="21.5" font-weight="bold" text-anchor="middle">2001</text>
<text x="1462.0" y="1292" font-family="&quot;Liberation Sans&quot;, sans-serif" font-size="21.5" font-weight="bold" text-anchor="middle">2002</text>
<text x="1527.4" y="1292" font-family="&quot;Liberation Sans&quot;, sans-serif" font-size="21.5" font-weight="bold" text-anchor="middle">2003</text>
<text x="1592.8" y="1292" font-family="&quot;Liberation Sans&quot;, sans-serif" font-size="21.5" font-weight="bold" text-anchor="middle">2004</text>
<text x="1658.3" y="1292" font-family="&quot;Liberation Sans&quot;, sans-serif" font-size="21.5" font-weight="bold" text-anchor="middle">2005</text>
<text x="1723.7" y="1292" font-family="&quot;Liberation Sans&quot;, sans-serif" font-size="21.5" font-weight="bold" text-anchor="middle">2006</text>
<text x="1789.1" y="1292" font-family="&quot;Liberation Sans&quot;, sans-serif" font-size="21.5" font-weight="bold" text-anchor="middle">2007</text>
<text x="1854.5" y="1292" font-family="&quot;Liberation Sans&quot;, sans-serif" font-size="21.5" font-weight="bold" text-anchor="middle">2008</text>
<text x="1919.9" y="1292" font-family="&quot;Liberation Sans&quot;, sans-serif" font-size="21.5" font-weight="bold" text-anchor="middle">2009</text>
<text x="1985.4" y="1292" font-family="&quot;Liberation Sans&quot;, sans-serif" font-size="21.5" font-weight="bold" text-anchor="middle">2010</text>
<text x="2050.8" y="1292" font-family="&quot;Liberation Sans&quot;, sans-serif" font-size="21.5" font-weight="bold" text-anchor="middle">2011</text>
<text x="2116.2" y="1292" font-family="&quot;Liberation Sans&quot;, sans-serif" font-size="21.5" font-weight="bold" text-anchor="middle">2012</text>
<text x="2181.6" y="1292" font-family="&quot;Liberation Sans&quot;, sans-serif" font-size="21.5" font-weight="bold" text-anchor="middle">2013</text>
<text x="2247.0" y="1292" font-family="&quot;Liberation Sans&quot;, sans-serif" font-size="21.5" font-weight="bold" text-anchor="middle">2014</text>
<text x="2312.5" y="1292" font-family="&quot;Liberation Sans&quot;, sans-serif" font-size="21.5" font-weight="bold" text-anchor="middle">2015</text>
<text x="712.4" y="105.3" font-family="&quot;Liberation Sans&quot;, sans-serif" font-size="78.5" font-weight="bold" font-style="normal" textLength="241.4" lengthAdjust="spacingAndGlyphs">Slowth</text>
<text x="973.0" y="105.3" font-family="&quot;Liberation Sans&quot;, sans-serif" font-size="78.5" font-weight="bold" font-style="normal" textLength="55.7" lengthAdjust="spacingAndGlyphs">Is</text>
<text x="1046.6" y="105.3" font-family="&quot;Liberation Sans&quot;, sans-serif" font-size="78.5" font-weight="bold" font-style="normal" textLength="126.0" lengthAdjust="spacingAndGlyphs">The</text>
<text x="1193.7" y="105.3" font-family="&quot;Liberation Sans&quot;, sans-serif" font-size="78.5" font-weight="bold" font-style="normal" textLength="157.1" lengthAdjust="spacingAndGlyphs">New</text>
<text x="1370.7" y="105.3" font-family="&quot;Liberation Sans&quot;, sans-serif" font-size="78.5" font-weight="bold" font-style="normal" textLength="288.1" lengthAdjust="spacingAndGlyphs">Growth:</text>
<text x="601.8" y="188.4" font-family="&quot;Liberation Sans&quot;, sans-serif" font-size="62.5" font-weight="bold" font-style="normal" textLength="98.7" lengthAdjust="spacingAndGlyphs">Get</text>
<text x="715.9" y="188.4" font-family="&quot;Liberation Sans&quot;, sans-serif" font-size="62.5" font-weight="bold" font-style="normal" textLength="139.5" lengthAdjust="spacingAndGlyphs">Used</text>
<text x="870.4" y="188.4" font-family="&quot;Liberation Sans&quot;, sans-serif" font-size="62.5" font-weight="bold" font-style="normal" textLength="63.5" lengthAdjust="spacingAndGlyphs">To</text>
<text x="949.1" y="188.4" font-family="&quot;Liberation Sans&quot;, sans-serif" font-size="62.5" font-weight="bold" font-style="normal" textLength="246.9" lengthAdjust="spacingAndGlyphs">Canada's</text>
<text x="1212.4" y="188.4" font-family="&quot;Liberation Sans&quot;, sans-serif" font-size="62.5" font-weight="bold" font-style="normal" textLength="130.7" lengthAdjust="spacingAndGlyphs">Slow</text>
<text x="1359.3" y="188.4" font-family="&quot;Liberation Sans&quot;, sans-serif" font-size="62.5" font-weight="bold" font-style="normal" textLength="210.2" lengthAdjust="spacingAndGlyphs">Growth</text>
<text x="1585.7" y="188.4" font-family="&quot;Liberation Sans&quot;, sans-serif" font-size="62.5" font-weight="bold" font-style="normal" textLength="181.1" lengthAdjust="spacingAndGlyphs">Future</text>
<text x="349.7" y="241.7" font-family="&quot;Liberation Sans&quot;, sans-serif" font-size="38.5" font-weight="bold" font-style="normal" textLength="139.6" lengthAdjust="spacingAndGlyphs">Canada,</text>
<text x="497.8" y="241.7" font-family="&quot;Liberation Sans&quot;, sans-serif" font-size="38.5" font-weight="bold" font-style="normal" textLength="165.1" lengthAdjust="spacingAndGlyphs">Quarterly</text>
<text x="672.7" y="241.7" font-family="&quot;Liberation Sans&quot;, sans-serif" font-size="38.5" font-weight="bold" font-style="normal" textLength="128.1" lengthAdjust="spacingAndGlyphs">Change</text>
<text x="808.4" y="241.7" font-family="&quot;Liberation Sans&quot;, sans-serif" font-size="38.5" font-weight="bold" font-style="normal" textLength="34.8" lengthAdjust="spacingAndGlyphs">in</text>
<text x="852.6" y="241.7" font-family="&quot;Liberation Sans&quot;, sans-serif" font-size="38.5" font-weight="bold" font-style="normal" textLength="80.6" lengthAdjust="spacingAndGlyphs">GDP,</text>
<text x="942.4" y="241.7" font-family="&quot;Liberation Sans&quot;, sans-serif" font-size="38.5" font-weight="bold" font-style="normal" textLength="180.0" lengthAdjust="spacingAndGlyphs">seasonally</text>
<text x="1133.4" y="241.7" font-family="&quot;Liberation Sans&quot;, sans-serif" font-size="38.5" font-weight="bold" font-style="normal" textLength="149.6" lengthAdjust="spacingAndGlyphs">adjusted</text>
<text x="1291.6" y="241.7" font-family="&quot;Liberation Sans&quot;, sans-serif" font-size="38.5" font-weight="bold" font-style="normal" textLength="34.2" lengthAdjust="spacingAndGlyphs">at</text>
<text x="1336.5" y="241.7" font-family="&quot;Liberation Sans&quot;, sans-serif" font-size="38.5" font-weight="bold" font-style="normal" textLength="116.3" lengthAdjust="spacingAndGlyphs">annual</text>
<text x="1462.6" y="241.7" font-family="&quot;Liberation Sans&quot;, sans-serif" font-size="38.5" font-weight="bold" font-style="normal" textLength="86.2" lengthAdjust="spacingAndGlyphs">rates</text>
<text x="1559.2" y="241.7" font-family="&quot;Liberation Sans&quot;, sans-serif" font-size="38.5" font-weight="bold" font-style="normal" textLength="45.1" lengthAdjust="spacingAndGlyphs">(in</text>
<text x="1616.0" y="241.7" font-family="&quot;Liberation Sans&quot;, sans-serif" font-size="38.5" font-weight="bold" font-style="normal" textLength="52.5" lengthAdjust="spacingAndGlyphs">%),</text>
<text x="1676.0" y="241.7" font-family="&quot;Liberation Sans&quot;, sans-serif" font-size="38.5" font-weight="bold" font-style="normal" textLength="51.3" lengthAdjust="spacingAndGlyphs">Q1</text>
<text x="1737.2" y="241.7" font-family="&quot;Liberation Sans&quot;, sans-serif" font-size="38.5" font-weight="bold" font-style="normal" textLength="82.4" lengthAdjust="spacingAndGlyphs">1981</text>
<text x="1830.8" y="241.7" font-family="&quot;Liberation Sans&quot;, sans-serif" font-size="38.5" font-weight="bold" font-style="normal" textLength="33.1" lengthAdjust="spacingAndGlyphs">to</text>
<text x="1875.2" y="241.7" font-family="&quot;Liberation Sans&quot;, sans-serif" font-size="38.5" font-weight="bold" font-style="normal" textLength="52.6" lengthAdjust="spacingAndGlyphs">Q2</text>
<text x="1936.1" y="241.7" font-family="&quot;Liberation Sans&quot;, sans-serif" font-size="38.5" font-weight="bold" font-style="normal" textLength="82.7" lengthAdjust="spacingAndGlyphs">2015</text>
<rect x="25" y="915" width="1314" height="250" fill="#fff200"/>
<text x="25.8" y="997.7" font-family="&quot;Liberation Sans&quot;, sans-serif" font-size="80" font-weight="normal" font-style="normal" textLength="153.1" lengthAdjust="spacingAndGlyphs">Lack</text>
<text x="201.4" y="997.7" font-family="&quot;Liberation Sans&quot;, sans-serif" font-size="80" font-weight="normal" font-style="normal" textLength="72.6" lengthAdjust="spacingAndGlyphs">of</text>
<text x="295.1" y="997.7" font-family="&quot;Liberation Sans&quot;, sans-serif" font-size="80" font-weight="normal" font-style="normal" textLength="219.7" lengthAdjust="spacingAndGlyphs">skilled</text>
<text x="538.1" y="997.7" font-family="&quot;Liberation Sans&quot;, sans-serif" font-size="80" font-weight="normal" font-style="normal" textLength="182.1" lengthAdjust="spacingAndGlyphs">labor</text>
<text x="742.6" y="997.7" font-family="&quot;Liberation Sans&quot;, sans-serif" font-size="80" font-weight="normal" font-style="normal" textLength="234.7" lengthAdjust="spacingAndGlyphs">posing</text>
<text x="995.8" y="997.7" font-family="&quot;Liberation Sans&quot;, sans-serif" font-size="80" font-weight="normal" font-style="normal" textLength="34.3" lengthAdjust="spacingAndGlyphs">a</text>
<text x="1056.9" y="997.7" font-family="&quot;Liberation Sans&quot;, sans-serif" font-size="80" font-weight="normal" font-style="normal" textLength="252.0" lengthAdjust="spacingAndGlyphs">serious</text>
<text x="25.2" y="1103.5" font-family="&quot;Liberation Sans&quot;, sans-serif" font-size="80" font-weight="normal" font-style="normal" textLength="217.6" lengthAdjust="spacingAndGlyphs">threat</text>
<text x="264.3" y="1103.5" font-family="&quot;Liberation Sans&quot;, sans-serif" font-size="80" font-weight="normal" font-style="normal" textLength="75.8" lengthAdjust="spacingAndGlyphs">to</text>
<text x="359.2" y="1103.5" font-family="&quot;Liberation Sans&quot;, sans-serif" font-size="80" font-weight="normal" font-style="normal" textLength="117.1" lengthAdjust="spacingAndGlyphs">the</text>
<text x="497.0" y="1103.5" font-family="&quot;Liberation Sans&quot;, sans-serif" font-size="80" font-weight="normal" font-style="normal" textLength="329.3" lengthAdjust="spacingAndGlyphs">Canadian</text>
<text x="847.9" y="1103.5" font-family="&quot;Liberation Sans&quot;, sans-serif" font-size="80" font-weight="normal" font-style="normal" textLength="325.5" lengthAdjust="spacingAndGlyphs">economy</text>
<text x="74.3" y="1341.8" font-family="&quot;Liberation Sans&quot;, sans-serif" font-size="31.3" font-weight="bold" font-style="italic" textLength="102.1" lengthAdjust="spacingAndGlyphs">Source:</text>
<text x="184.5" y="1341.8" font-family="&quot;Liberation Sans&quot;, sans-serif" font-size="31.3" font-weight="bold" font-style="italic" textLength="101.2" lengthAdjust="spacingAndGlyphs">Armine</text>
<text x="293.9" y="1341.8" font-family="&quot;Liberation Sans&quot;, sans-serif" font-size="31.3" font-weight="bold" font-style="italic" textLength="141.3" lengthAdjust="spacingAndGlyphs">Yalnizyan,</text>
<text x="441.4" y="1341.8" font-family="&quot;Liberation Sans&quot;, sans-serif" font-size="31.3" font-weight="bold" font-style="italic" textLength="130.2" lengthAdjust="spacingAndGlyphs">Canadian</text>
<text x="580.7" y="1341.8" font-family="&quot;Liberation Sans&quot;, sans-serif" font-size="31.3" font-weight="bold" font-style="italic" textLength="91.3" lengthAdjust="spacingAndGlyphs">Centre</text>
<text x="675.8" y="1341.8" font-family="&quot;Liberation Sans&quot;, sans-serif" font-size="31.3" font-weight="bold" font-style="italic" textLength="42.2" lengthAdjust="spacingAndGlyphs">for</text>
<text x="726.6" y="1341.8" font-family="&quot;Liberation Sans&quot;, sans-serif" font-size="31.3" font-weight="bold" font-style="italic" textLength="80.5" lengthAdjust="spacingAndGlyphs">Policy</text>
<text x="814.9" y="1341.8" font-family="&quot;Liberation Sans&quot;, sans-serif" font-size="31.3" font-weight="bold" font-style="italic" textLength="177.5" lengthAdjust="spacingAndGlyphs">Alternatives,</text>
<text x="999.3" y="1341.8" font-family="&quot;Liberation Sans&quot;, sans-serif" font-size="31.3" font-weight="bold" font-style="italic" textLength="65.0" lengthAdjust="spacingAndGlyphs">data</text>
<text x="1067.8" y="1341.8" font-family="&quot;Liberation Sans&quot;, sans-serif" font-size="31.3" font-weight="bold" font-style="italic" textLength="69.8" lengthAdjust="spacingAndGlyphs">from</text>
<text x="1145.1" y="1341.8" font-family="&quot;Liberation Sans&quot;, sans-serif" font-size="31.3" font-weight="bold" font-style="italic" textLength="123.5" lengthAdjust="spacingAndGlyphs">Statistics</text>
<text x="1275.2" y="1341.8" font-family="&quot;Liberation Sans&quot;, sans-serif" font-size="31.3" font-weight="bold" font-style="italic" textLength="106.8" lengthAdjust="spacingAndGlyphs">Canada</text>
<text x="1388.6" y="1341.8" font-family="&quot;Liberation Sans&quot;, sans-serif" font-size="31.3" font-weight="bold" font-style="italic" textLength="111.2" lengthAdjust="spacingAndGlyphs">CANSIM</text>
<text x="1509.7" y="1341.8" font-family="&quot;Liberation Sans&quot;, sans-serif" font-size="31.3" font-weight="bold" font-style="italic" textLength="127.8" lengthAdjust="spacingAndGlyphs">380-0064</text>
<rect x="0" y="0" width="2" height="1368" fill="#555"/>
<rect x="0" y="0" width="2370" height="2" fill="#555"/>
<rect x="2368" y="0" width="2" height="1368" fill="#222"/>
<rect x="0" y="1366" width="2370" height="2" fill="#222"/>
<rect x="0" y="1368" width="2371" height="1" fill="#aaa"/>
</svg></body></html>
